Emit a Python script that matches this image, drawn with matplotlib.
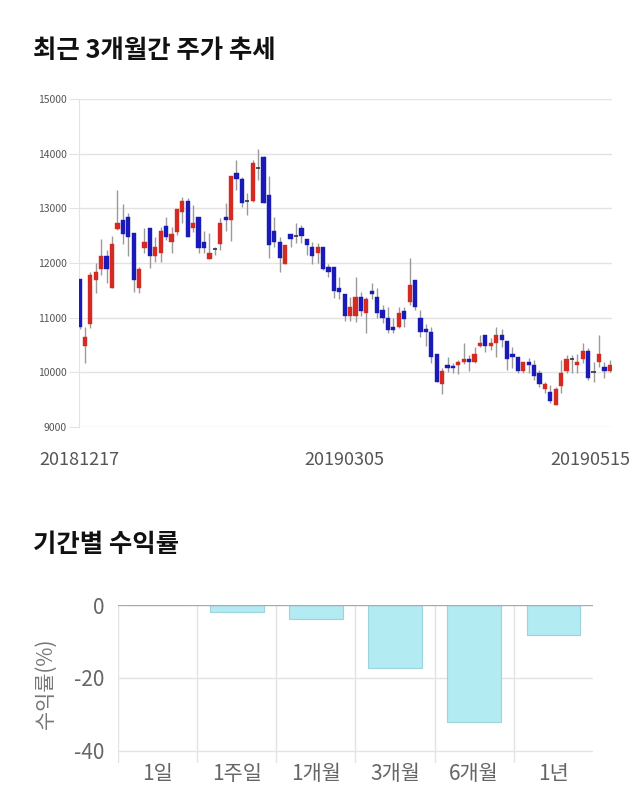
import matplotlib
matplotlib.use("Agg")
import matplotlib.pyplot as plt
import matplotlib.transforms as mtransforms
import numpy as np

plt.rcParams['font.family'] = ['Noto Sans CJK KR', 'DejaVu Sans']

# ---- candlestick data (KRW) ----
opens = [11700, 10480, 10880, 11690, 11890, 12125, 11540, 12620, 12785, 12840,
         12545, 11540, 12270, 12640, 12125, 12180, 12675, 12380, 12565, 12930,
         13130, 12640, 12840, 12380, 12070, 12250, 12345, 12840, 12785, 13640,
         13530, 13130, 13130, 13735, 13935, 13240, 12580, 12380, 11980, 12530,
         12490, 12640, 12440, 12290, 12180, 12290, 11925, 11925, 11540, 11430,
         11030, 11030, 11375, 11085, 11485, 11375, 11140, 10990, 10830, 10830,
         11120, 11285, 11690, 10990, 10790, 10740, 10335, 9785, 10135, 10110,
         10135, 10190, 10245, 10190, 10480, 10680, 10480, 10535, 10680, 10570,
         10335, 10280, 10025, 10190, 10135, 9990, 9695, 9640, 9400, 9750,
         10025, 10245, 10135, 10245, 10390, 10000, 10190, 10100, 10025]
highs = [11700, 10830, 11830, 12000, 12440, 12235, 12490, 13330, 13075, 12910,
         12550, 11925, 12640, 12640, 12470, 12655, 12840, 12655, 12985, 13205,
         13185, 13060, 12840, 12580, 12545, 12290, 12820, 13095, 13590, 13880,
         13570, 13280, 13880, 14080, 13950, 13590, 12840, 12475, 12325, 12530,
         12730, 12690, 12440, 12380, 12360, 12290, 11980, 11925, 11740, 11430,
         11380, 11740, 11470, 11375, 11630, 11540, 11230, 11195, 10990, 11195,
         11195, 12090, 11690, 11140, 10880, 10830, 10335, 10080, 10280, 10170,
         10225, 10535, 10315, 10460, 10680, 10680, 10625, 10830, 10790, 10570,
         10460, 10280, 10190, 10260, 10225, 10040, 9820, 9770, 9730, 10225,
         10315, 10315, 10335, 10535, 10440, 10190, 10680, 10190, 10225]
lows = [10800, 10170, 10810, 11450, 11780, 11630, 11540, 12600, 12345, 12125,
        11470, 11450, 12180, 11900, 12015, 12015, 12420, 12180, 12510, 12730,
        12470, 12565, 12180, 12180, 12070, 12145, 12235, 12580, 12400, 13330,
        13020, 12875, 13120, 13515, 13095, 12090, 12290, 11830, 11980, 12290,
        12360, 12360, 12145, 11980, 12000, 11870, 11740, 11360, 11340, 10940,
        10940, 10920, 11030, 10720, 11340, 10990, 10900, 10720, 10720, 10810,
        10830, 11230, 11140, 10645, 10480, 10170, 9820, 9600, 10005, 9990,
        9970, 10150, 10025, 10170, 10460, 10370, 10410, 10280, 10460, 10040,
        10080, 9990, 9990, 9990, 9860, 9730, 9620, 9440, 9400, 9620,
        9990, 9990, 9990, 10170, 9860, 9820, 10100, 9895, 10000]
closes = [10830, 10645, 11780, 11830, 12125, 11890, 12345, 12730, 12530, 12475,
          11690, 11890, 12380, 12125, 12290, 12580, 12475, 12530, 12985, 13130,
          12475, 12730, 12270, 12270, 12180, 12250, 12730, 12785, 13590, 13530,
          13095, 13130, 13825, 13735, 13095, 12325, 12380, 12090, 12325, 12440,
          12490, 12490, 12325, 12125, 12290, 11890, 11830, 11490, 11470, 11030,
          11195, 11375, 11120, 11340, 11430, 11085, 10990, 10775, 10775, 11085,
          10975, 11595, 11195, 10740, 10740, 10280, 9820, 10025, 10080, 10085,
          10190, 10245, 10190, 10335, 10535, 10480, 10535, 10680, 10590, 10245,
          10280, 10025, 10190, 10135, 9930, 9785, 9785, 9475, 9695, 9990,
          10245, 10245, 10190, 10390, 9895, 10000, 10335, 10025, 10135]
date_labels = ["20181217", "20190305", "20190515"]
date_index = [0, 49, 98]
price_ticks = [9000, 10000, 11000, 12000, 13000, 14000, 15000]

# ---- returns data ----
periods = ["1일", "1주일", "1개월", "3개월", "6개월", "1년"]
returns = [0.0, -2.0, -3.9, -17.4, -32.2, -8.2]
return_ticks = [0, -20, -40]

RED = "#d42a22"
BLUE = "#1a1ab8"
WICK = "#9a9a9a"
GRID = "#e3e3e3"

fig = plt.figure(figsize=(6.4, 8.1), dpi=100)

# titles
fig.text(33/640, 1-51/810, "최근 3개월간 주가 추세", fontsize=18.3, fontweight='bold',
         color="#111111", ha='left', va='center')
fig.text(33/640, 1-544/810, "기간별 수익률", fontsize=18.3, fontweight='bold',
         color="#111111", ha='left', va='center')

# ---- candlestick axes ----
ax = fig.add_axes([79/640, 1-427/810, (612-79)/640, (427-99)/810])
x = np.arange(len(opens))
o = np.array(opens, float); c = np.array(closes, float)
h = np.array(highs, float); l = np.array(lows, float)
ax.vlines(x, l, h, color=WICK, linewidth=1.0, zorder=2)
up = c > o
down = c < o
flat = c == o
w = 0.78
ax.bar(x[up], (c - o)[up], bottom=o[up], width=w, color=RED, edgecolor=RED,
       linewidth=0.3, zorder=3)
ax.bar(x[down], (c - o)[down], bottom=o[down], width=w, color=BLUE, edgecolor=BLUE,
       linewidth=0.3, zorder=3)
ax.hlines(c[flat], x[flat] - w/2, x[flat] + w/2, color="#333333", linewidth=1.2, zorder=3)

ax.set_xlim(-0.1, 98.4)
ax.set_ylim(9000, 15000)
ax.set_yticks(price_ticks)
ax.set_yticklabels([str(t) for t in price_ticks], fontsize=7.5, color="#555555")
ax.yaxis.grid(True, color=GRID, linewidth=1.0)
ax.set_axisbelow(True)
ax.set_xticks([])
for s in ['top', 'right', 'bottom']:
    ax.spines[s].set_visible(False)
ax.spines['left'].set_color(GRID)
ax.tick_params(axis='y', length=7, color=GRID, pad=2)

trans = mtransforms.blended_transform_factory(ax.transData, ax.transAxes)
aligns = ['center', 'center', 'right']
for idx, lab, al in zip(date_index, date_labels, aligns):
    xx = idx if al != 'right' else idx + 3.8
    ax.text(xx, -33/328, lab, transform=trans, ha=al, va='center',
            fontsize=13, color="#555555", clip_on=False)

# ---- returns bar axes ----
bx = fig.add_axes([118/640, 1-763/810, (593-118)/640, (763-605)/810])
xb = np.arange(len(periods))
bx.bar(xb, returns, width=0.68, color="#b3ebf3", edgecolor="#9cd3dd", linewidth=0.8, zorder=3)
bx.set_xlim(-0.5, len(periods) - 0.5)
bx.set_ylim(-43.3, 0)
bx.set_yticks(return_ticks)
bx.set_yticklabels([str(t) for t in return_ticks], fontsize=15, color="#666666")
bx.set_xticks(xb)
bx.set_xticklabels(periods, fontsize=15, color="#666666")
bx.tick_params(axis='x', length=0, pad=0)
bx.tick_params(axis='y', length=0, pad=10)
for yv in return_ticks:
    bx.axhline(yv, color=("#aaaaaa" if yv == 0 else GRID), linewidth=1.0, zorder=(4 if yv == 0 else 1))
for xv in np.arange(-0.5, len(periods) - 0.5, 1.0):
    bx.axvline(xv, color=GRID, linewidth=1.0, zorder=1)
for s in bx.spines.values():
    s.set_visible(False)
bx.set_ylabel("수익률(%)", fontsize=15, color="#777777", labelpad=12)

fig.savefig("out.png", dpi=100)
